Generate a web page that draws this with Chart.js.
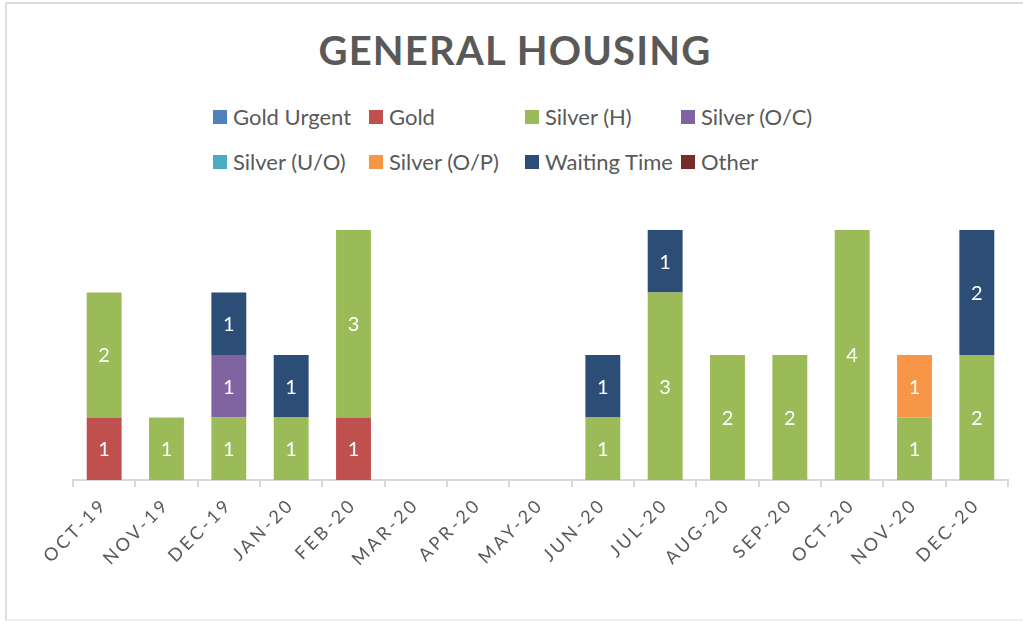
<!DOCTYPE html>
<html lang="en">
<head>
  <meta charset="UTF-8" />
  <title>General Housing</title>
  <script src="https://cdn.jsdelivr.net/npm/chart.js"></script>
  <style>
    body { margin: 0; background: #fff; font-family: Lato, "Open Sans", sans-serif; overflow: hidden; }
    .frame { position: absolute; left: 5px; top: 2px; width: 1100px; height: 619px; border: 2px solid #dedede; border-bottom-color: #f0f0f0; box-sizing: border-box; }
    .wrap { position: absolute; left: 0; top: 0; width: 1023px; height: 621px; }
    h1 { position: absolute; left: 0; width: 1030px; top: 26px; margin: 0; text-align: center;
         font-size: 40px; font-weight: bold; letter-spacing: 1.2px; color: #595959; }
    #legend { position: absolute; left: 213px; top: 103px; width: 640px; display: grid;
              grid-template-columns: 156px 156px 156px 156px; row-gap: 18px; }
    .item { display: flex; align-items: center; font-size: 22px; color: #595959; white-space: nowrap; height: 27px; }
    .box { width: 14px; height: 14px; margin-right: 6px; flex: none; }
    canvas { position: absolute; left: 0; top: 0; }
  </style>
</head>
<body>
  <div class="frame"></div>
  <div class="wrap">
    <h1>GENERAL HOUSING</h1>
    <div id="legend"></div>
    <canvas id="chart" width="1023" height="621"></canvas>
  </div>
  <script>
    // Months on the x axis
    const months = ['OCT-19', 'NOV-19', 'DEC-19', 'JAN-20', 'FEB-20', 'MAR-20', 'APR-20', 'MAY-20',
                    'JUN-20', 'JUL-20', 'AUG-20', 'SEP-20', 'OCT-20', 'NOV-20', 'DEC-20'];

    // Series values per month
    const goldUrgent  = [0, 0, 0, 0, 0, 0, 0, 0, 0, 0, 0, 0, 0, 0, 0];
    const gold        = [1, 0, 0, 0, 1, 0, 0, 0, 0, 0, 0, 0, 0, 0, 0];
    const silverH     = [2, 1, 1, 1, 3, 0, 0, 0, 1, 3, 2, 2, 4, 1, 2];
    const silverOC    = [0, 0, 1, 0, 0, 0, 0, 0, 0, 0, 0, 0, 0, 0, 0];
    const silverUO    = [0, 0, 0, 0, 0, 0, 0, 0, 0, 0, 0, 0, 0, 0, 0];
    const silverOP    = [0, 0, 0, 0, 0, 0, 0, 0, 0, 0, 0, 0, 0, 1, 0];
    const waitingTime = [0, 0, 1, 1, 0, 0, 0, 0, 1, 1, 0, 0, 0, 0, 2];
    const other       = [0, 0, 0, 0, 0, 0, 0, 0, 0, 0, 0, 0, 0, 0, 0];

    const series = [
      { label: 'Gold Urgent',  data: goldUrgent,  color: '#4F81BD' },
      { label: 'Gold',         data: gold,        color: '#C0504D' },
      { label: 'Silver (H)',   data: silverH,     color: '#9BBB59' },
      { label: 'Silver (O/C)', data: silverOC,    color: '#8064A2' },
      { label: 'Silver (U/O)', data: silverUO,    color: '#4BACC6' },
      { label: 'Silver (O/P)', data: silverOP,    color: '#F79646' },
      { label: 'Waiting Time', data: waitingTime, color: '#2C4D75' },
      { label: 'Other',        data: other,       color: '#772C2A' }
    ];

    // HTML legend laid out in fixed columns
    const legendDiv = document.getElementById('legend');
    series.forEach(s => {
      legendDiv.innerHTML += `<div class="item"><span class="box" style="background:${s.color}"></span>${s.label}</div>`;
    });

    // Draw white value labels in the middle of each segment
    const valueLabels = {
      id: 'valueLabels',
      beforeDraw(chart) { chart.ctx.letterSpacing = '3px'; },
      beforeDatasetsDraw(chart) { chart.ctx.letterSpacing = '0px'; },
      afterDatasetsDraw(chart) {
        const ctx = chart.ctx;
        ctx.save();
        ctx.fillStyle = '#ffffff';
        ctx.font = '20px Lato, "Open Sans", sans-serif';
        ctx.textAlign = 'center';
        ctx.textBaseline = 'middle';
        chart.data.datasets.forEach((ds, i) => {
          chart.getDatasetMeta(i).data.forEach((bar, j) => {
            const v = ds.data[j];
            if (!v) return;
            ctx.fillText(String(v), bar.x, (bar.y + bar.base) / 2 + 1);
          });
        });
        ctx.restore();
      }
    };

    new Chart(document.getElementById('chart'), {
      type: 'bar',
      data: {
        labels: months,
        datasets: series.map(s => ({
          label: s.label,
          data: s.data,
          backgroundColor: s.color,
          categoryPercentage: 1,
          barPercentage: 0.56
        }))
      },
      options: {
        responsive: false,
        animation: false,
        layout: { padding: { top: 230, right: 15, left: 0, bottom: 0 } },
        plugins: { legend: { display: false }, tooltip: { enabled: false } },
        scales: {
          x: {
            stacked: true,
            grid: { offset: true, drawOnChartArea: false, drawTicks: true, tickLength: 7, color: '#d9d9d9', lineWidth: 2 },
            border: { display: true, color: '#d9d9d9', width: 2 },
            ticks: {
              minRotation: 45, maxRotation: 45, padding: 7, color: '#595959',
              font: { family: 'Lato, "Open Sans", sans-serif', size: 18 }
            },
            afterFit: s => { s.height = 141; }
          },
          y: {
            stacked: true, min: 0, max: 4,
            grid: { display: false },
            border: { display: false },
            ticks: { display: false },
            afterFit: s => { s.width = 73; }
          }
        }
      },
      plugins: [valueLabels]
    });
  </script>
</body>
</html>
